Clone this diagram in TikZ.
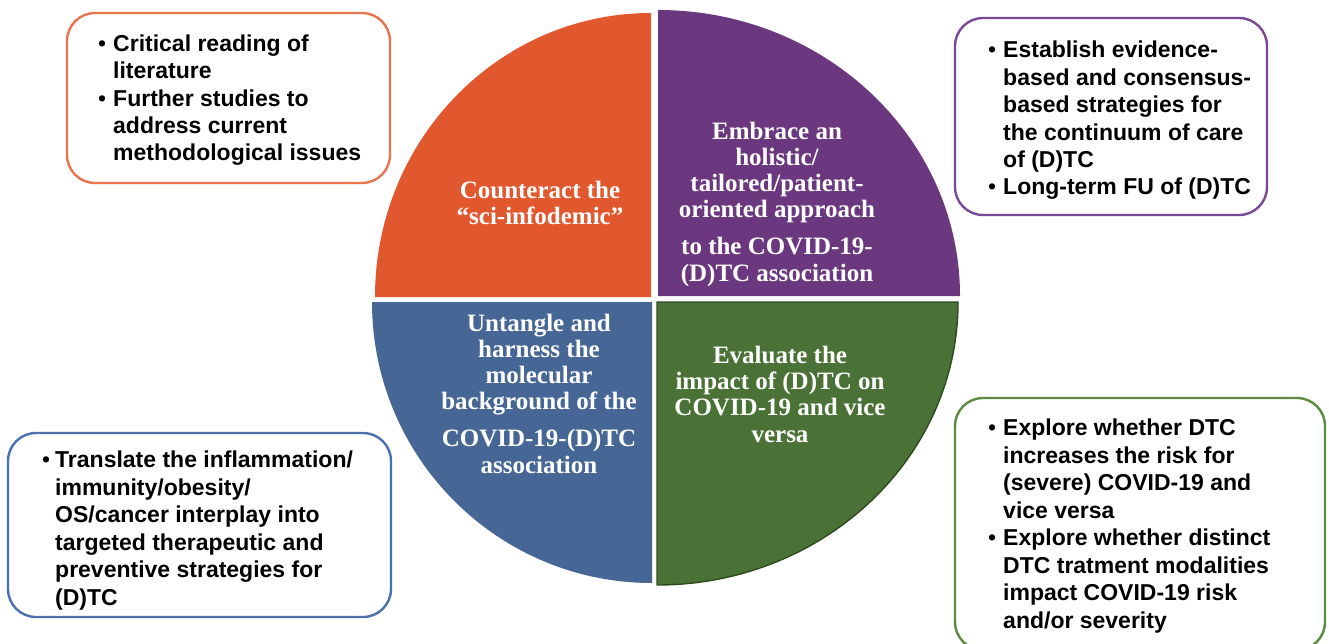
\documentclass[tikz,border=0pt]{standalone}
\usepackage{fontspec}
\setmainfont{Liberation Serif}
\newfontfamily\boxfont{Liberation Sans}

\definecolor{qorange}{HTML}{E1582F}
\definecolor{qpurple}{HTML}{6B3880}
\definecolor{qblue}{HTML}{466796}
\definecolor{qgreen}{HTML}{4B7236}
\definecolor{qgreendark}{HTML}{2E4A1F}
\definecolor{borange}{HTML}{E8754E}
\definecolor{bpurple}{HTML}{7A4896}
\definecolor{bblue}{HTML}{4A70AE}
\definecolor{bgreen}{HTML}{5C8A40}

\newcommand{\itm}{\makebox[15pt][l]{\mdseries\textbullet}}
\newcommand{\cnt}{\hspace*{15pt}}

\begin{document}
\begin{tikzpicture}[x=1pt,y=-1pt,
  panel/.style={draw, line width=2.4pt, rounded corners=28pt, fill=white},
  % anchored at the baseline of the last line
  bulletlist/.style={anchor=base west, align=left, inner sep=0pt,
    font=\boxfont\bfseries\fontsize{23}{27.45}\selectfont},
  quadtext/.style={anchor=base, align=center, inner sep=0pt, text=white,
    font=\bfseries\fontsize{25}{26.2}\selectfont}]

\useasboundingbox[fill=white] (0,0) rectangle (1329,644);

% the four quarters of the disc
\fill[qorange] (651,297) -- (375,297)
  arc[start angle=180, end angle=90, x radius=276pt, y radius=284pt] -- cycle;
\fill[qpurple] (658,296) -- (658,10)
  arc[start angle=90, end angle=0, x radius=302pt, y radius=286pt] -- cycle;
\fill[qblue] (652,302) -- (372,302)
  arc[start angle=180, end angle=270, x radius=280pt, y radius=281pt] -- cycle;
\filldraw[fill=qgreen, draw=qgreendark, line width=1.4pt] (657,302) -- (657,585)
  arc[start angle=270, end angle=360, x radius=301pt, y radius=283pt] -- cycle;

% labels inside the quarters
\node[quadtext] (tq1) at (540,224.6) {Counteract the\\“sci-infodemic”};
\node[quadtext] (tq2) at (777,281) {Embrace an\\holistic/\\tailored/patient-\\oriented approach\\[11pt]to the COVID-19-\\(D)TC association};
\node[quadtext] (tq3) at (539,473) {Untangle and\\harness the\\molecular\\background of the\\[11pt]COVID-19-(D)TC\\association};
\node[quadtext] (tq4) at (780,442) {Evaluate the\\impact of (D)TC on\\COVID-19 and vice\\versa};

% rounded panels with the action points
\draw[panel, draw=borange] (67,13) rectangle (390,183);
\node[bulletlist] (l1) at (98,161) {\itm Critical reading of\\\cnt literature\\\itm Further studies to\\\cnt address current\\\cnt methodological issues};

\draw[panel, draw=bpurple] (955,18) rectangle (1267,215);
\node[bulletlist] (l2) at (988,195) {\itm Establish evidence-\\\cnt based and consensus-\\\cnt based strategies for\\\cnt the continuum of care\\\cnt of (D)TC\\\itm Long-term FU of (D)TC};

\draw[panel, draw=bblue] (8,433) rectangle (391,617);
\node[bulletlist] (l3) at (42,605) {\makebox[13pt][l]{\mdseries\textbullet}Translate the inflammation/\\\hspace*{13pt}immunity/obesity/\\\hspace*{13pt}OS/cancer interplay into\\\hspace*{13pt}targeted therapeutic and\\\hspace*{13pt}preventive strategies for\\\hspace*{13pt}(D)TC};

\draw[panel, draw=bgreen] (955,398) rectangle (1325,650);
\node[bulletlist] (l4) at (988,628) {\itm Explore whether DTC\\\cnt increases the risk for\\\cnt (severe) COVID-19 and\\\cnt vice versa\\\itm Explore whether distinct\\\cnt DTC tratment modalities\\\cnt impact COVID-19 risk\\\cnt and/or severity};

\end{tikzpicture}
\end{document}
